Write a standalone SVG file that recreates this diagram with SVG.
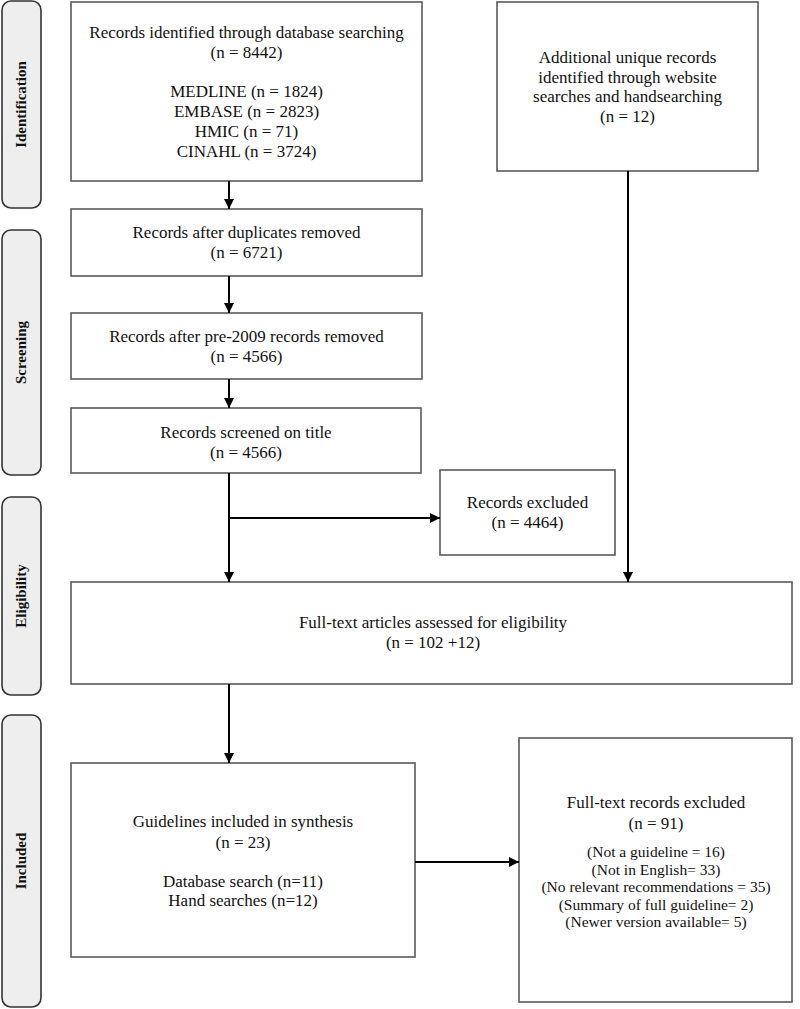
<svg xmlns="http://www.w3.org/2000/svg" width="800" height="1009" viewBox="0 0 800 1009">
<style>
.box{fill:#fff;stroke:#5a5a5a;stroke-width:1.6}
.side{fill:#eeeeee;stroke:#333;stroke-width:1.6}
.t{font-family:"Liberation Serif","Times New Roman",serif;font-size:17px;fill:#111;text-anchor:middle}
.s{font-family:"Liberation Serif","Times New Roman",serif;font-size:15.5px;fill:#111;text-anchor:middle}
.lab{font-family:"Liberation Serif","Times New Roman",serif;font-size:15px;font-weight:bold;fill:#111;text-anchor:middle}
.c{fill:none;stroke:#000;stroke-width:2}
</style>
<defs>
<marker id="ah" markerUnits="userSpaceOnUse" markerWidth="10" markerHeight="10" refX="10" refY="5" orient="auto">
<path d="M0,0 L10,5 L0,10 z" fill="#000"/>
</marker>
</defs>
<rect width="800" height="1009" fill="#fff"/>

<g id="phase-identification">
<rect class="side" x="2" y="1" width="39" height="207" rx="9"/>
<text class="lab" transform="translate(26,104.5) rotate(-90)">Identification</text>
</g>
<g id="phase-screening">
<rect class="side" x="2" y="230" width="39" height="245" rx="9"/>
<text class="lab" transform="translate(26,352.5) rotate(-90)">Screening</text>
</g>
<g id="phase-eligibility">
<rect class="side" x="2" y="497" width="39" height="198" rx="9"/>
<text class="lab" transform="translate(26,596) rotate(-90)">Eligibility</text>
</g>
<g id="phase-included">
<rect class="side" x="2" y="715" width="39" height="292" rx="9"/>
<text class="lab" transform="translate(26,861) rotate(-90)">Included</text>
</g>

<g id="database">
<rect class="box" x="71" y="2" width="351" height="179"/>
<text class="t" x="246.5" y="38">Records identified through database searching</text>
<text class="t" x="246.5" y="58">(n = 8442)</text>
<text class="t" x="246.5" y="97">MEDLINE (n = 1824)</text>
<text class="t" x="246.5" y="117">EMBASE (n = 2823)</text>
<text class="t" x="246.5" y="137">HMIC (n = 71)</text>
<text class="t" x="246.5" y="157">CINAHL (n = 3724)</text>
</g>
<g id="additional">
<rect class="box" x="497" y="2" width="261" height="169"/>
<text class="t" x="627.5" y="63">Additional unique records</text>
<text class="t" x="627.5" y="83">identified through website</text>
<text class="t" x="627.5" y="102">searches and handsearching</text>
<text class="t" x="627.5" y="122">(n = 12)</text>
</g>
<g id="duplicates">
<rect class="box" x="71" y="209" width="351" height="67"/>
<text class="t" x="246.5" y="238">Records after duplicates removed</text>
<text class="t" x="246.5" y="258">(n = 6721)</text>
</g>
<g id="pre2009">
<rect class="box" x="71" y="313" width="351" height="66"/>
<text class="t" x="246.5" y="342">Records after pre-2009 records removed</text>
<text class="t" x="246.5" y="362">(n = 4566)</text>
</g>
<g id="screened">
<rect class="box" x="71" y="408" width="350" height="65"/>
<text class="t" x="246" y="438">Records screened on title</text>
<text class="t" x="246" y="458">(n = 4566)</text>
</g>
<g id="excluded">
<rect class="box" x="440" y="470" width="175" height="85"/>
<text class="t" x="527.5" y="508">Records excluded</text>
<text class="t" x="527.5" y="528">(n = 4464)</text>
</g>
<g id="fulltext">
<rect class="box" x="71" y="582" width="721" height="102"/>
<text class="t" x="433" y="628">Full-text articles assessed for eligibility</text>
<text class="t" x="433" y="648">(n = 102 +12)</text>
</g>
<g id="included">
<rect class="box" x="71" y="763" width="344" height="194"/>
<text class="t" x="243" y="827">Guidelines included in synthesis</text>
<text class="t" x="243" y="848">(n = 23)</text>
<text class="t" x="243" y="887">Database search (n=11)</text>
<text class="t" x="243" y="906">Hand searches (n=12)</text>
</g>
<g id="fulltext-excluded">
<rect class="box" x="519" y="738" width="273" height="264"/>
<text class="t" x="656" y="808">Full-text records excluded</text>
<text class="t" x="656" y="829">(n = 91)</text>
<text class="s" x="656" y="857">(Not a guideline = 16)</text>
<text class="s" x="656" y="875">(Not in English= 33)</text>
<text class="s" x="656" y="892">(No relevant recommendations = 35)</text>
<text class="s" x="656" y="910">(Summary of full guideline= 2)</text>
<text class="s" x="656" y="927">(Newer version available= 5)</text>
</g>

<g id="connectors">
<path class="c" d="M229,181 V209" marker-end="url(#ah)"/>
<path class="c" d="M229,276 V313" marker-end="url(#ah)"/>
<path class="c" d="M229,379 V408" marker-end="url(#ah)"/>
<path class="c" d="M229,473 V582" marker-end="url(#ah)"/>
<path class="c" d="M229,518 H440" marker-end="url(#ah)"/>
<path class="c" d="M628,171 V582" marker-end="url(#ah)"/>
<path class="c" d="M229,684 V763" marker-end="url(#ah)"/>
<path class="c" d="M415,862 H519" marker-end="url(#ah)"/>
</g>
</svg>
